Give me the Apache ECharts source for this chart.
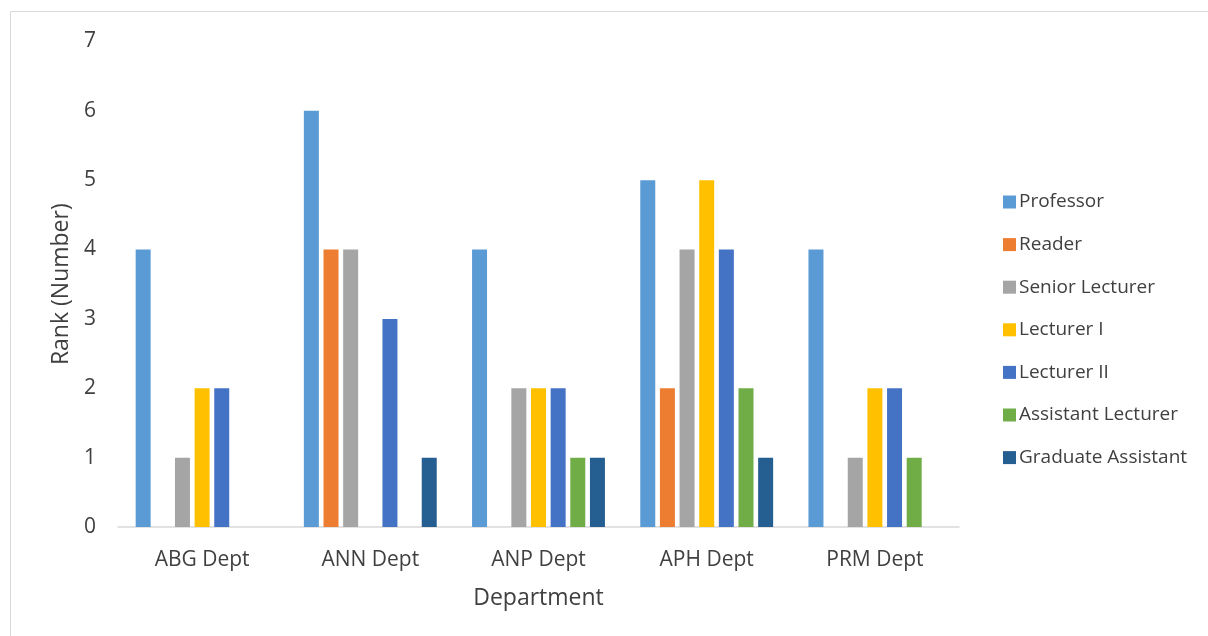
<!DOCTYPE html>
<html><head><meta charset="utf-8">
<script src="https://cdn.jsdelivr.net/npm/echarts@6/dist/echarts.min.js"></script>
<style>html,body{margin:0;padding:0;background:#fff}#c{width:1208px;height:636px}</style>
</head><body><div id="c"></div>
<script>
const categories = ['ABG Dept','ANN Dept','ANP Dept','APH Dept','PRM Dept'];
const seriesNames = ['Professor','Reader','Senior Lecturer','Lecturer I','Lecturer II','Assistant Lecturer','Graduate Assistant'];
const professor = [4,6,4,5,4];
const reader = [0,4,0,2,0];
const seniorLecturer = [1,4,2,4,1];
const lecturerI = [2,0,2,5,2];
const lecturerII = [2,3,2,4,2];
const assistantLecturer = [0,0,1,2,1];
const graduateAssistant = [0,1,1,1,0];
const colors = ['#5B9BD5','#ED7D31','#A5A5A5','#FFC000','#4472C4','#70AD47','#255E91'];
const values = [professor,reader,seniorLecturer,lecturerI,lecturerII,assistantLecturer,graduateAssistant];
const font = '"Open Sans", "Liberation Sans", sans-serif';
const chart = echarts.init(document.getElementById('c'));
chart.setOption({
  animation:false,
  textStyle:{fontFamily:font},
  graphic:[{type:'rect',shape:{x:10.5,y:11.5,width:1210,height:640},style:{fill:'none',stroke:'#d9d9d9',lineWidth:1}}],
  grid:{left:118,right:249,top:41.4,bottom:109,containLabel:false},
  legend:{orient:'vertical',left:998,top:187,itemWidth:13,itemHeight:13,itemGap:22.6,icon:'rect',
    textStyle:{fontSize:19,lineHeight:20,color:'#404040',fontFamily:font,padding:[0,0,0,-2]},data:seriesNames},
  xAxis:{type:'category',data:categories,name:'Department',nameLocation:'middle',nameGap:60,
    nameTextStyle:{fontSize:23,color:'#404040'},
    axisLine:{lineStyle:{color:'#d9d9d9',width:1.5}},axisTick:{show:false},
    axisLabel:{fontSize:21,color:'#404040',margin:23}},
  yAxis:{type:'value',min:0,max:7,interval:1,name:'Rank (Number)',nameLocation:'middle',nameGap:45,
    nameTextStyle:{fontSize:23,color:'#404040'},
    splitLine:{show:false},axisLine:{show:false},axisTick:{show:false},
    axisLabel:{fontSize:21,color:'#404040',margin:22}},
  series: seriesNames.map((n,i)=>({name:n,type:'bar',data:values[i],barGap:'31%',barCategoryGap:'21%',
    itemStyle:{color:colors[i]}}))
});
</script></body></html>
